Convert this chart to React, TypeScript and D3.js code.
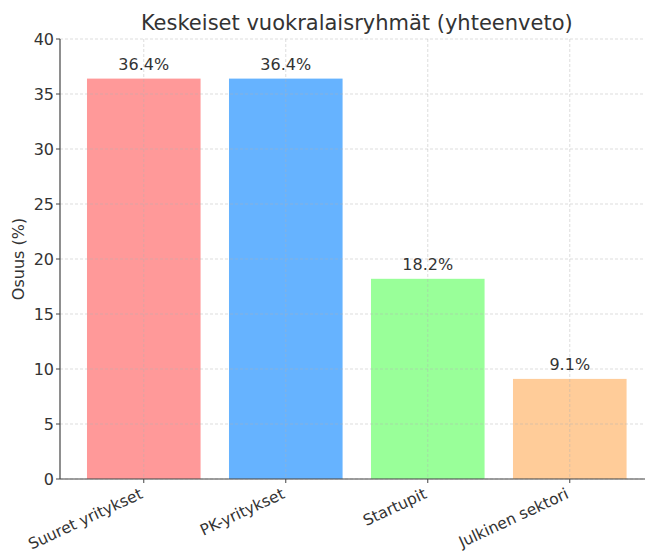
import { useEffect, useRef } from "react";
import * as d3 from "d3";

const categories = ["Suuret yritykset", "PK-yritykset", "Startupit", "Julkinen sektori"];
const shares = [36.4, 36.4, 18.2, 9.1];
const colors = ["#ff9999", "#66b3ff", "#99ff99", "#ffcc99"];
const yTicks = [0, 5, 10, 15, 20, 25, 30, 35, 40];

const width = 645;
const height = 551;

const App = () => {
  const ref = useRef<SVGSVGElement>(null);

  useEffect(() => {
    const svg = d3.select(ref.current);
    svg.selectAll("*").remove();

    const left = 60;
    const top = 39;
    const bottom = 479;
    const step = 142;

    // matplotlib style: bars at 0..3, width 0.8, 5% margins
    const x = d3
      .scaleLinear()
      .domain([-0.59, 3.59])
      .range([left, left + 4.18 * step]);
    const y = d3.scaleLinear().domain([0, 40]).range([bottom, top]);
    const font = "DejaVu Sans, sans-serif";

    const g = svg.append("g");

    g.selectAll("rect.bar")
      .data(shares)
      .enter()
      .append("rect")
      .attr("class", "bar")
      .attr("x", (d, i) => x(i - 0.4))
      .attr("width", x(0.4) - x(-0.4))
      .attr("y", (d) => y(d))
      .attr("height", (d) => y(0) - y(d))
      .attr("fill", (d, i) => colors[i]);

    // grid
    g.selectAll("line.hgrid")
      .data(yTicks)
      .enter()
      .append("line")
      .attr("x1", left)
      .attr("x2", width)
      .attr("y1", (d) => y(d))
      .attr("y2", (d) => y(d))
      .attr("stroke", "#b0b0b0")
      .attr("stroke-opacity", 0.55)
      .attr("stroke-dasharray", "3,2")
      .attr("stroke-width", 0.8);

    g.selectAll("line.vgrid")
      .data(categories)
      .enter()
      .append("line")
      .attr("x1", (d, i) => x(i))
      .attr("x2", (d, i) => x(i))
      .attr("y1", top)
      .attr("y2", bottom)
      .attr("stroke", "#b0b0b0")
      .attr("stroke-opacity", 0.55)
      .attr("stroke-dasharray", "3,2")
      .attr("stroke-width", 0.8);

    // spines
    g.append("line")
      .attr("x1", left)
      .attr("x2", left)
      .attr("y1", top)
      .attr("y2", bottom)
      .attr("stroke", "#444")
      .attr("stroke-width", 1.2);
    g.append("line")
      .attr("x1", left)
      .attr("x2", width)
      .attr("y1", bottom)
      .attr("y2", bottom)
      .attr("stroke", "#444")
      .attr("stroke-width", 1.2);

    // y ticks
    g.selectAll("line.ytick")
      .data(yTicks)
      .enter()
      .append("line")
      .attr("x1", left - 4)
      .attr("x2", left)
      .attr("y1", (d) => y(d))
      .attr("y2", (d) => y(d))
      .attr("stroke", "#444");
    g.selectAll("text.ytick")
      .data(yTicks)
      .enter()
      .append("text")
      .attr("x", left - 6)
      .attr("y", (d) => y(d))
      .attr("dy", "0.35em")
      .attr("text-anchor", "end")
      .style("font-family", font)
      .style("font-size", "16px")
      .attr("fill", "#333")
      .text((d) => d);

    // x ticks
    g.selectAll("line.xtick")
      .data(categories)
      .enter()
      .append("line")
      .attr("x1", (d, i) => x(i))
      .attr("x2", (d, i) => x(i))
      .attr("y1", bottom)
      .attr("y2", bottom + 4)
      .attr("stroke", "#444");
    g.selectAll("text.xtick")
      .data(categories)
      .enter()
      .append("text")
      .attr("transform", (d, i) => "translate(" + (x(i) - 5) + "," + (bottom + 8) + ") rotate(-25)")
      .attr("text-anchor", "end")
      .attr("dy", "0.75em")
      .style("font-family", font)
      .style("font-size", "15.5px")
      .attr("fill", "#333")
      .text((d) => d);

    // value labels
    g.selectAll("text.value")
      .data(shares)
      .enter()
      .append("text")
      .attr("x", (d, i) => x(i))
      .attr("y", (d) => y(d) - 9)
      .attr("text-anchor", "middle")
      .style("font-family", font)
      .style("font-size", "16px")
      .attr("fill", "#333")
      .text((d) => d.toFixed(1) + "%");

    // title and axis label
    svg
      .append("text")
      .attr("x", (left + x(3.59)) / 2)
      .attr("y", 30)
      .attr("text-anchor", "middle")
      .style("font-family", font)
      .style("font-size", "21px")
      .attr("fill", "#333")
      .text("Keskeiset vuokralaisryhmät (yhteenveto)");

    svg
      .append("text")
      .attr("transform", "translate(24," + (top + bottom) / 2 + ") rotate(-90)")
      .attr("text-anchor", "middle")
      .style("font-family", font)
      .style("font-size", "16px")
      .attr("fill", "#333")
      .text("Osuus (%)");
  }, []);

  return (
    <svg
      ref={ref}
      width={width}
      height={height}
      style={{ position: "absolute", left: 0, top: 0, background: "#fff" }}
    />
  );
};

export default App;
